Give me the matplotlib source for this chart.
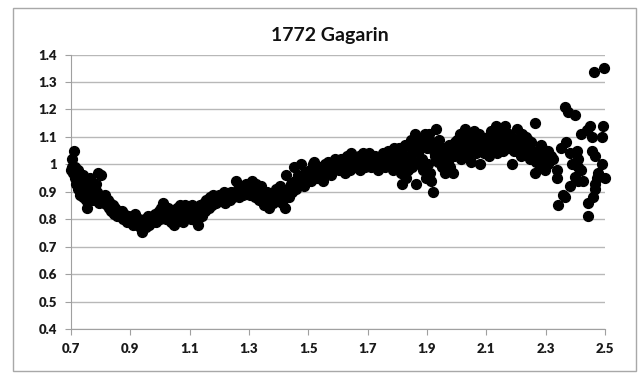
import numpy as np
import matplotlib.pyplot as plt
from matplotlib.patches import Rectangle

plt.rcParams['font.family'] = ['Lato', 'DejaVu Sans']

# Lightcurve samples, split into chunks along the x axis
x_a = [0.700, 0.702, 0.705, 0.707, 0.710, 0.712, 0.715, 0.718, 0.720, 0.723, 0.725, 0.728,
       0.730, 0.733, 0.736, 0.740, 0.742, 0.745, 0.748, 0.750, 0.754, 0.756, 0.760, 0.763,
       0.766, 0.770, 0.773, 0.776, 0.780, 0.783, 0.786, 0.790, 0.793, 0.796, 0.800, 0.805]
y_a = [0.98, 1.02, 0.99, 0.97, 1.05, 0.95, 0.99, 0.93, 0.96, 0.91, 0.98, 0.94,
       0.89, 0.95, 0.92, 0.96, 0.88, 0.94, 0.91, 0.87, 0.84, 0.93, 0.90, 0.95,
       0.89, 0.92, 0.87, 0.91, 0.88, 0.93, 0.90, 0.97, 0.86, 0.89, 0.96, 0.87]

x_b = [0.808, 0.812, 0.816, 0.820, 0.824, 0.828, 0.832, 0.836, 0.840, 0.844, 0.848, 0.852,
       0.856, 0.860, 0.864, 0.868, 0.872, 0.876, 0.880, 0.884, 0.888, 0.892, 0.896]
y_b = [0.88, 0.86, 0.89, 0.85, 0.87, 0.84, 0.86, 0.83, 0.85, 0.82, 0.84, 0.83,
       0.81, 0.83, 0.82, 0.81, 0.83, 0.80, 0.82, 0.81, 0.79, 0.81, 0.80]

x_c = [0.900, 0.904, 0.908, 0.912, 0.916, 0.920, 0.924, 0.928, 0.932, 0.936, 0.940, 0.944,
       0.948, 0.952, 0.956, 0.960, 0.964, 0.968, 0.972, 0.976, 0.980, 0.984, 0.988, 0.992, 0.996]
y_c = [0.79, 0.81, 0.78, 0.80, 0.82, 0.79, 0.78, 0.80, 0.77, 0.79, 0.755, 0.78,
       0.80, 0.77, 0.79, 0.81, 0.78, 0.80, 0.79, 0.81, 0.80, 0.82, 0.79, 0.81, 0.83]

x_d = [1.000, 1.005, 1.009, 1.012, 1.016, 1.020, 1.024, 1.028, 1.032, 1.036, 1.040, 1.044,
       1.048, 1.052, 1.056, 1.060, 1.064, 1.068, 1.072, 1.076, 1.080, 1.084, 1.088, 1.092, 1.096]
y_d = [0.80, 0.84, 0.86, 0.81, 0.83, 0.80, 0.82, 0.84, 0.81, 0.79, 0.83, 0.81,
       0.78, 0.82, 0.84, 0.80, 0.83, 0.85, 0.81, 0.79, 0.83, 0.85, 0.82, 0.84, 0.81]

x_e = [1.100, 1.104, 1.108, 1.112, 1.116, 1.120, 1.124, 1.128, 1.132, 1.136, 1.140, 1.144,
       1.148, 1.152, 1.156, 1.160, 1.164, 1.168, 1.172, 1.176, 1.180, 1.184, 1.188, 1.192, 1.196]
y_e = [0.83, 0.80, 0.85, 0.82, 0.84, 0.81, 0.79, 0.78, 0.83, 0.85, 0.81, 0.84,
       0.86, 0.83, 0.87, 0.85, 0.84, 0.88, 0.86, 0.85, 0.89, 0.87, 0.86, 0.88, 0.87]

x_f = [1.200, 1.205, 1.210, 1.215, 1.220, 1.225, 1.230, 1.235, 1.240, 1.245, 1.250, 1.257,
       1.262, 1.266, 1.270, 1.275, 1.280, 1.285, 1.290, 1.295]
y_f = [0.89, 0.87, 0.88, 0.90, 0.86, 0.89, 0.88, 0.87, 0.90, 0.88, 0.89, 0.94,
       0.91, 0.88, 0.90, 0.92, 0.89, 0.91, 0.93, 0.90]

x_g = [1.300, 1.305, 1.310, 1.315, 1.320, 1.325, 1.330, 1.335, 1.340, 1.345, 1.350, 1.355,
       1.360, 1.366, 1.370, 1.375, 1.380, 1.385, 1.390, 1.395]
y_g = [0.92, 0.89, 0.94, 0.91, 0.88, 0.93, 0.90, 0.87, 0.92, 0.89, 0.85, 0.88,
       0.90, 0.84, 0.87, 0.89, 0.86, 0.88, 0.91, 0.87]

x_h = [1.400, 1.405, 1.410, 1.415, 1.420, 1.425, 1.430, 1.435, 1.440, 1.445, 1.450, 1.455,
       1.460, 1.465, 1.470, 1.475, 1.480, 1.485, 1.490, 1.495]
y_h = [0.89, 0.92, 0.86, 0.90, 0.84, 0.96, 0.91, 0.88, 0.93, 0.90, 0.99, 0.94,
       0.91, 0.96, 0.93, 1.00, 0.95, 0.92, 0.97, 0.94]

x_i = [1.500, 1.505, 1.510, 1.515, 1.520, 1.525, 1.530, 1.535, 1.540, 1.545, 1.550, 1.555,
       1.560, 1.565, 1.570, 1.575, 1.580, 1.585, 1.590, 1.595]
y_i = [0.96, 0.98, 0.94, 1.00, 1.01, 0.97, 0.95, 0.99, 0.96, 0.98, 0.94, 1.00,
       0.97, 1.01, 0.99, 0.96, 1.00, 0.98, 1.02, 0.99]

x_j = [1.600, 1.605, 1.610, 1.615, 1.620, 1.625, 1.630, 1.635, 1.640, 1.645, 1.650, 1.655,
       1.660, 1.665, 1.670, 1.675, 1.680, 1.685, 1.690, 1.695]
y_j = [1.00, 0.98, 1.02, 0.99, 1.01, 0.97, 1.03, 1.00, 0.98, 1.04, 1.01, 0.99,
       1.02, 1.00, 1.03, 0.98, 1.01, 1.04, 0.99, 1.02]

x_k = [1.700, 1.705, 1.710, 1.715, 1.720, 1.725, 1.730, 1.735, 1.740, 1.745, 1.750, 1.755,
       1.760, 1.765, 1.770, 1.775, 1.780, 1.785, 1.790, 1.795]
y_k = [1.01, 1.04, 0.99, 1.02, 1.00, 1.03, 1.01, 0.98, 1.02, 1.00, 1.04, 1.01,
       0.99, 1.03, 1.05, 1.00, 1.02, 0.98, 1.06, 1.01]

x_l = [1.800, 1.803, 1.806, 1.810, 1.813, 1.817, 1.820, 1.823, 1.826, 1.830, 1.833, 1.836,
       1.840, 1.843, 1.846, 1.850, 1.853, 1.856, 1.858, 1.862, 1.865, 1.868, 1.872, 1.875,
       1.878, 1.882, 1.885, 1.888, 1.892, 1.895, 1.898]
y_l = [1.03, 0.99, 1.06, 1.01, 0.97, 0.93, 1.04, 1.00, 1.07, 0.95, 1.02, 0.98,
       1.07, 1.03, 1.09, 0.99, 1.05, 1.01, 1.11, 0.93, 1.07, 1.04, 1.00, 1.09,
       1.06, 1.02, 1.08, 0.98, 1.11, 1.07, 0.95]

x_m = [1.900, 1.903, 1.906, 1.910, 1.913, 1.917, 1.920, 1.923, 1.927, 1.930, 1.934, 1.938,
       1.942, 1.946, 1.950, 1.954, 1.958, 1.962, 1.966, 1.970, 1.974, 1.978, 1.982, 1.986,
       1.990, 1.994, 1.998]
y_m = [1.06, 1.00, 1.11, 0.97, 0.94, 1.08, 0.90, 1.05, 1.03, 1.13, 1.07, 1.01,
       1.09, 1.04, 0.99, 1.06, 1.02, 0.97, 1.05, 1.01, 1.07, 0.99, 1.04, 0.97,
       1.03, 1.08, 1.05]

x_n = [2.000, 2.004, 2.008, 2.012, 2.016, 2.020, 2.024, 2.028, 2.032, 2.036, 2.040, 2.044,
       2.048, 2.052, 2.056, 2.060, 2.064, 2.068, 2.072, 2.076, 2.080, 2.084, 2.088, 2.092, 2.096]
y_n = [1.09, 1.04, 1.07, 1.11, 1.02, 1.06, 1.08, 1.13, 1.05, 1.03, 1.10, 1.07,
       1.01, 1.09, 1.06, 1.12, 1.04, 1.08, 1.05, 1.11, 1.00, 1.07, 1.09, 1.04, 1.08]

x_o = [2.100, 2.104, 2.108, 2.112, 2.116, 2.120, 2.124, 2.128, 2.132, 2.136, 2.140, 2.144,
       2.148, 2.152, 2.156, 2.160, 2.164, 2.168, 2.172, 2.176, 2.180, 2.184, 2.188, 2.192, 2.196]
y_o = [1.06, 1.10, 1.03, 1.08, 1.12, 1.05, 1.09, 1.07, 1.14, 1.04, 1.08, 1.11,
       1.06, 1.09, 1.05, 1.13, 1.14, 1.08, 1.06, 1.11, 1.07, 1.10, 1.00, 1.05, 1.09]

x_p = [2.200, 2.204, 2.208, 2.212, 2.216, 2.219, 2.224, 2.228, 2.232, 2.236, 2.241, 2.244,
       2.248, 2.252, 2.256, 2.259, 2.264, 2.264, 2.268, 2.272, 2.276, 2.281, 2.284, 2.287,
       2.292, 2.296, 2.298]
y_p = [1.07, 1.13, 1.05, 1.09, 1.03, 1.11, 1.06, 1.08, 1.10, 1.04, 1.09, 1.07,
       1.02, 1.08, 1.05, 1.02, 1.15, 0.97, 1.01, 1.05, 1.04, 1.00, 1.07, 1.06,
       0.99, 1.03, 0.98]

x_q = [2.308, 2.309, 2.318, 2.325, 2.337, 2.337, 2.340, 2.350, 2.360, 2.365, 2.365, 2.370,
       2.376, 2.382, 2.382, 2.390, 2.400, 2.400, 2.405, 2.410, 2.410, 2.410, 2.420, 2.420,
       2.427, 2.438, 2.444, 2.444, 2.450, 2.455, 2.455, 2.460, 2.463, 2.466, 2.466, 2.466,
       2.472, 2.478, 2.489, 2.489, 2.494, 2.497, 2.500]
y_q = [1.00, 1.05, 1.03, 1.02, 0.95, 0.98, 0.85, 1.06, 0.89, 1.21, 0.88, 1.08,
       1.19, 0.92, 1.04, 1.00, 1.18, 0.955, 1.05, 1.02, 0.99, 0.94, 0.98, 1.11,
       0.94, 1.125, 0.86, 0.81, 1.14, 1.10, 1.05, 0.88, 1.335, 1.03, 0.93, 0.91,
       0.95, 0.97, 1.10, 1.00, 1.14, 1.35, 0.95]

x_all = np.concatenate([x_a, x_b, x_c, x_d, x_e, x_f, x_g, x_h, x_i,
                        x_j, x_k, x_l, x_m, x_n, x_o, x_p, x_q])
y_all = np.concatenate([y_a, y_b, y_c, y_d, y_e, y_f, y_g, y_h, y_i,
                        y_j, y_k, y_l, y_m, y_n, y_o, y_p, y_q])

fig = plt.figure(figsize=(6.42, 3.76), dpi=100)
ax = fig.add_axes([0.1106, 0.125, 0.8318, 0.730])

ax.scatter(x_all, y_all, s=50, color='black', zorder=3, clip_on=False)

ax.set_xlim(0.7, 2.5)
ax.set_ylim(0.4, 1.4)
ax.set_xticks(np.arange(0.7, 2.51, 0.2))
ax.set_yticks(np.arange(0.4, 1.41, 0.1))
ax.set_xticklabels(['0.7', '0.9', '1.1', '1.3', '1.5', '1.7', '1.9', '2.1', '2.3', '2.5'])
ax.set_yticklabels(['0.4', '0.5', '0.6', '0.7', '0.8', '0.9', '1', '1.1', '1.2', '1.3', '1.4'])

ax.grid(axis='y', color='#b8b8b8', linewidth=1)
ax.set_axisbelow(True)
for side in ['top', 'right']:
    ax.spines[side].set_visible(False)
for side in ['left', 'bottom']:
    ax.spines[side].set_color('#a0a0a0')
ax.tick_params(axis='both', direction='out', length=4, color='#a0a0a0',
               labelsize=9.5, pad=6)
for lbl in ax.get_xticklabels() + ax.get_yticklabels():
    lbl.set_fontweight('heavy')
    lbl.set_color('#1a1a1a')

fig.text(0.514, 0.905, '1772 Gagarin', ha='center', va='center',
         fontsize=14, fontweight='bold', color='#111111')

# thin frame around the whole chart
fig.patches.append(Rectangle((0.021, 0.014), 0.970, 0.965, transform=fig.transFigure,
                             fill=False, edgecolor='#a8a8a8', linewidth=1))

fig.savefig('out.png', dpi=100)
